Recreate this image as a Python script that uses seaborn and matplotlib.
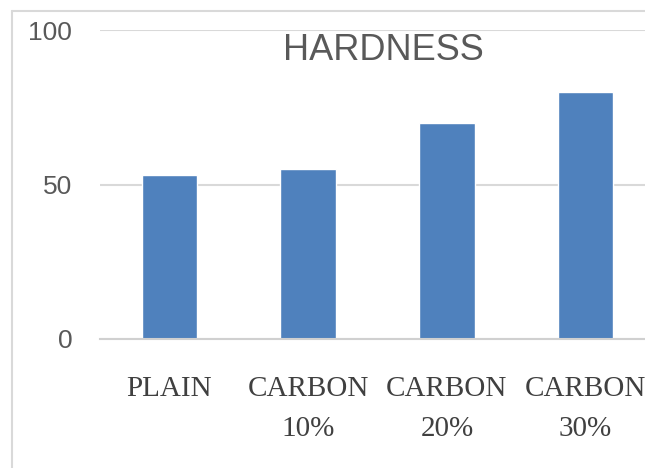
import matplotlib
matplotlib.use("Agg")
import matplotlib.pyplot as plt
import seaborn as sns
import pandas as pd
from matplotlib.lines import Line2D

categories = ["PLAIN", "CARBON\n10%", "CARBON\n20%", "CARBON\n30%"]
hardness = [53, 55, 70, 80]
yticks = [0, 50, 100]
title = "HARDNESS"

sns.set_theme(style="white")
plt.rcParams['font.family'] = ['Liberation Sans', 'DejaVu Sans']

df = pd.DataFrame({"cat": categories, "val": hardness})

fig = plt.figure(figsize=(6.45, 4.68), dpi=100)
ax = fig.add_axes([100/645, 129/468, 555/645, 309/468])

sns.barplot(data=df, x="cat", y="val", color="#4F81BD", saturation=1,
            width=0.4, ax=ax, zorder=3)

ax.set_xlim(-0.5, 3.5)
ax.set_ylim(0, 100)
ax.set_yticks(yticks)
ax.set_xlabel("")
ax.set_ylabel("")
for s in ["top", "right", "left"]:
    ax.spines[s].set_visible(False)
ax.spines["bottom"].set_color("#D0D0D0")
ax.spines["bottom"].set_linewidth(1.5)
ax.spines["bottom"].set_zorder(4)
ax.yaxis.grid(True, color="#D9D9D9", linewidth=1.5, zorder=0)
ax.set_axisbelow(True)

ax.tick_params(axis="x", length=0, pad=27, labelsize=21, colors="#404040")
ax.tick_params(axis="y", length=0, pad=20, labelsize=19, colors="#595959")
for lab in ax.get_xticklabels():
    lab.set_fontfamily(['Liberation Serif', 'DejaVu Serif'])
    lab.set_multialignment("center")
    lab.set_linespacing(1.65)

fig.text(383/645, 1 - 50/468, title, ha="center", va="center",
         fontsize=26, color="#595959",
         family=['Liberation Sans Narrow', 'Liberation Sans', 'DejaVu Sans'])

# outer chart border (partially visible)
fig.add_artist(Line2D([12/645, 12/645], [0, 1 - 11/468], transform=fig.transFigure,
                      color="#D9D9D9", linewidth=1.5))
fig.add_artist(Line2D([12/645, 1], [1 - 11/468, 1 - 11/468], transform=fig.transFigure,
                      color="#D9D9D9", linewidth=1.5))

fig.savefig("out.png", dpi=100)
